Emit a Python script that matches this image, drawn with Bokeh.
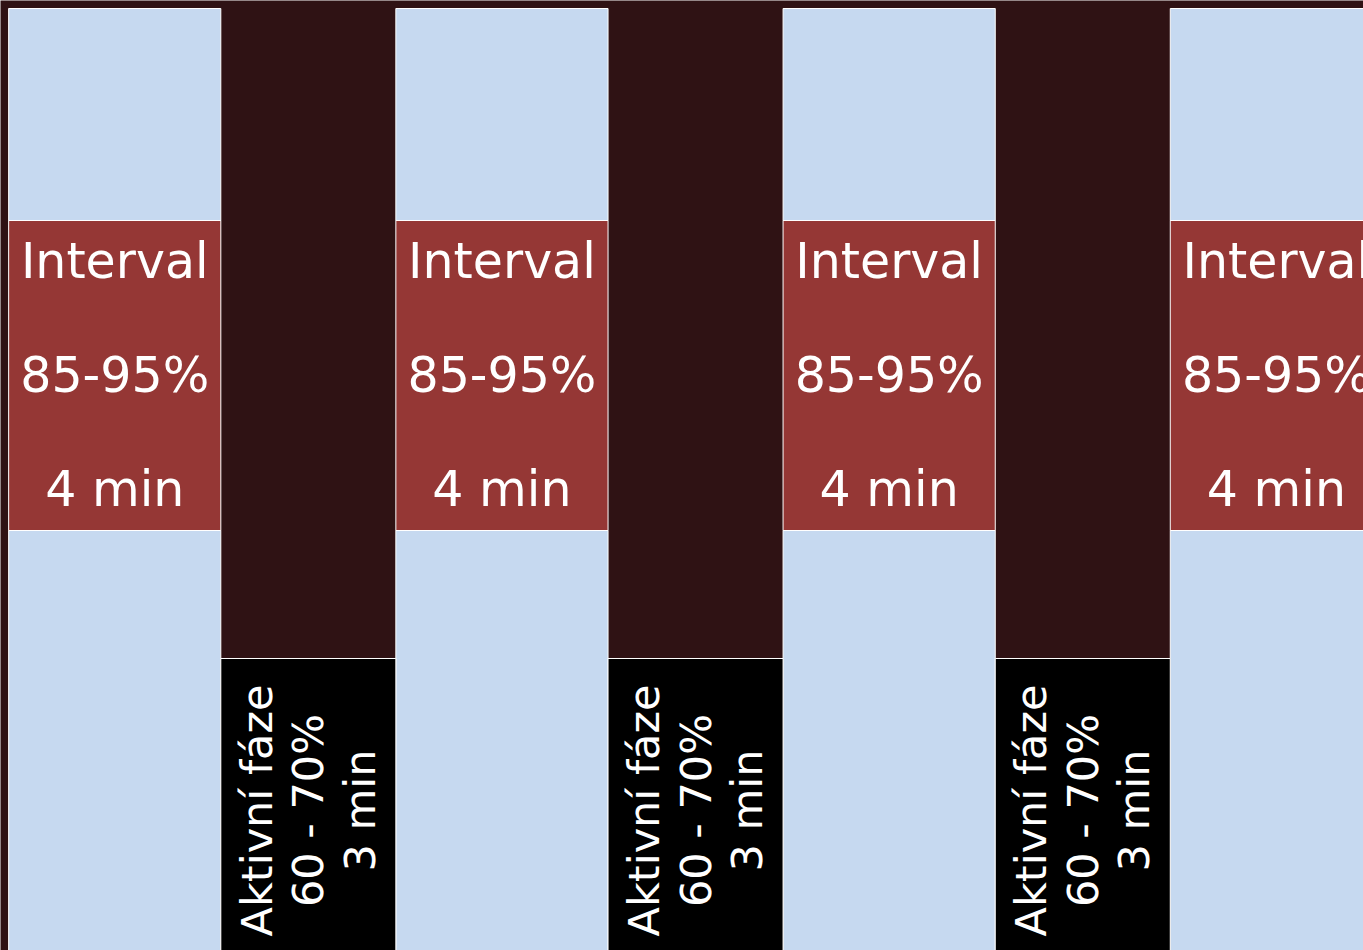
import math

from bokeh.core.properties import value
from bokeh.embed import file_html
from bokeh.models import ColumnDataSource, Range1d
from bokeh.plotting import figure
from bokeh.resources import INLINE

# Work intervals (light blue column with a red effort band) and rest phases
work_x = [0, 1, 2, 3]
work_low = [43.2, 43.2, 43.2, 43.2]      # light blue segment below the band
work_band = [31.0, 31.0, 31.0, 31.0]     # red effort band
work_high = [21.2, 21.2, 21.2, 21.2]     # light blue segment above the band
work_labels = ["Interval\n\n85-95%\n\n4 min"] * 4

rest_x = [0.5, 1.5, 2.5]
rest_height = [30.4, 30.4, 30.4]
rest_labels = ["Aktivní fáze\n60 - 70%\n3 min"] * 3

BG = "#2F1214"
BLUE = "#C6D9F0"
RED = "#953735"
FONT = "DejaVu Sans"

band_bottom = [lo for lo in work_low]
band_top = [lo + b for lo, b in zip(work_low, work_band)]
col_top = [t + h for t, h in zip(band_top, work_high)]
band_mid = [lo + b / 2 for lo, b in zip(work_low, work_band)]

work = ColumnDataSource(dict(
    x=work_x, low=work_low, band_bottom=band_bottom, band_top=band_top,
    col_top=col_top, mid=band_mid, label=work_labels,
))
rest = ColumnDataSource(dict(
    x=rest_x, top=rest_height, mid=[h / 2 for h in rest_height], label=rest_labels,
))

p = figure(
    width=1363, height=950,
    x_range=Range1d(-0.295, 3.225), y_range=Range1d(1.2, 96.2),
    output_backend="svg", toolbar_location=None,
    min_border=0, background_fill_color=BG, border_fill_color=BG,
    outline_line_color=None,
)
p.axis.visible = False
p.grid.visible = False

# light blue columns split around the red band
p.vbar(x="x", width=0.548, bottom=0, top="band_bottom", source=work,
       fill_color=BLUE, line_color="white", line_width=1)
p.vbar(x="x", width=0.548, bottom="band_bottom", top="band_top", source=work,
       fill_color=RED, line_color="white", line_width=1)
p.vbar(x="x", width=0.548, bottom="band_top", top="col_top", source=work,
       fill_color=BLUE, line_color="white", line_width=1)

# rest phases
p.vbar(x="x", width=0.452, bottom=0, top="top", source=rest,
       fill_color="black", line_color="white", line_width=1)

p.text(x="x", y="mid", text="label", source=work,
       text_font=value(FONT), text_font_size="49px", text_color="white",
       text_align="center", text_baseline="middle", text_line_height=1.0)

p.text(x="x", y="mid", text="label", source=rest, angle=math.pi / 2,
       text_font=value(FONT), text_font_size="43px", text_color="white",
       text_align="center", text_baseline="middle", text_line_height=1.03)

open("out.html", "w").write(file_html(p, INLINE))
